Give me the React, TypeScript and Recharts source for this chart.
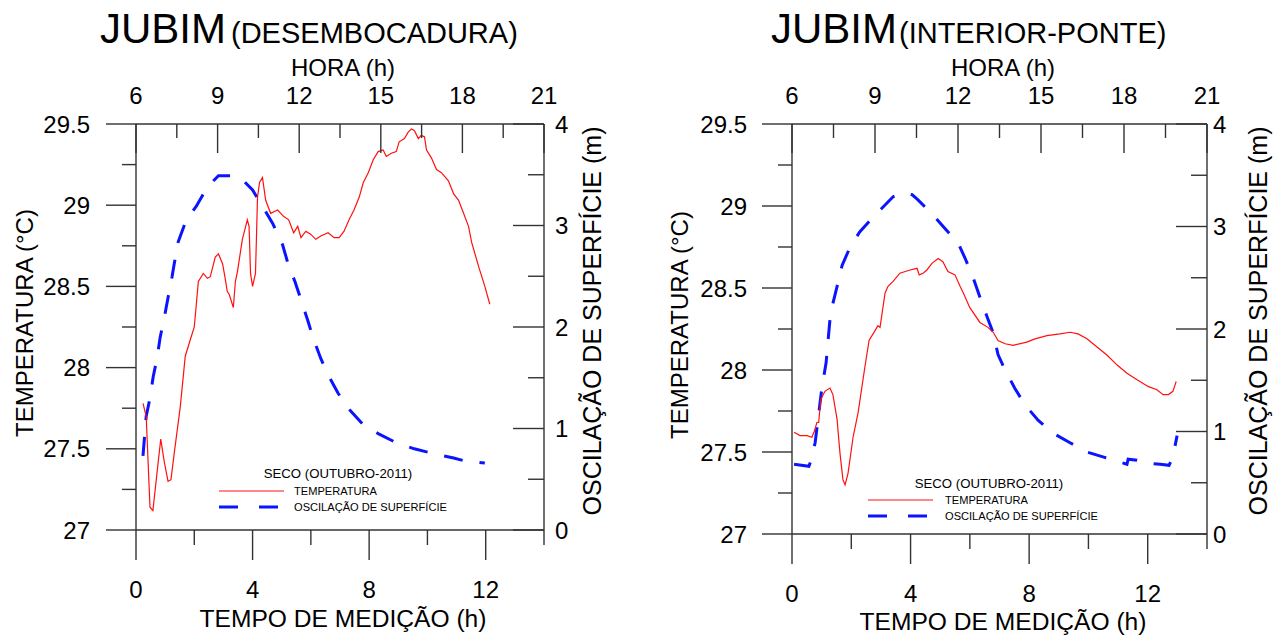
import React from 'react';
import { ComposedChart, Line, XAxis, YAxis } from 'recharts';

const FONT = '"Liberation Sans", Arial, Helvetica, sans-serif';
const AXIS = '#333333';
const RED = '#ff1010';
const BLUE = '#0a14ff';

// ---------- DATA: JUBIM (DESEMBOCADURA) ----------
const desTempTime = [0.24, 0.35, 0.48, 0.58, 0.72, 0.85, 0.97, 1.1, 1.2, 1.31, 1.52, 1.69, 1.86, 2.0, 2.14, 2.31, 2.45, 2.55, 2.72, 2.83, 2.97, 3.05, 3.13, 3.2, 3.34, 3.41, 3.48, 3.65, 3.82, 3.88, 3.93, 4.0, 4.1, 4.17, 4.24, 4.34, 4.45, 4.62, 4.86, 5.07, 5.24, 5.41, 5.55, 5.66, 5.83, 6.0, 6.17, 6.34, 6.59, 6.8, 6.97, 7.14, 7.31, 7.48, 7.66, 7.8, 7.97, 8.14, 8.31, 8.48, 8.59, 8.76, 8.93, 9.03, 9.21, 9.34, 9.45, 9.55, 9.69, 9.79, 9.9, 9.97, 10.14, 10.31, 10.48, 10.72, 10.9, 11.07, 11.24, 11.41, 11.52, 11.76, 11.97, 12.14];
const desTemp = [27.78, 27.7, 27.14, 27.12, 27.35, 27.56, 27.42, 27.3, 27.31, 27.47, 27.76, 28.07, 28.17, 28.25, 28.53, 28.58, 28.55, 28.56, 28.68, 28.7, 28.64, 28.56, 28.47, 28.45, 28.37, 28.53, 28.59, 28.79, 28.91, 28.87, 28.58, 28.5, 28.58, 29.05, 29.14, 29.17, 29.03, 28.95, 28.97, 28.93, 28.91, 28.83, 28.87, 28.8, 28.84, 28.82, 28.79, 28.81, 28.83, 28.8, 28.8, 28.84, 28.91, 28.97, 29.05, 29.14, 29.2, 29.28, 29.33, 29.34, 29.3, 29.32, 29.33, 29.39, 29.41, 29.45, 29.47, 29.46, 29.41, 29.43, 29.42, 29.34, 29.29, 29.22, 29.2, 29.15, 29.07, 29.03, 28.95, 28.87, 28.77, 28.62, 28.5, 28.39];
const desOscTime = [0.24, 0.35, 0.48, 0.59, 0.72, 0.83, 0.97, 1.1, 1.24, 1.31, 1.45, 1.72, 2.07, 2.45, 2.83, 3.24, 3.59, 4.0, 4.38, 4.69, 5.03, 5.21, 5.45, 5.66, 5.9, 6.07, 6.34, 6.59, 6.93, 7.28, 7.79, 8.31, 8.93, 9.55, 10.24, 10.9, 11.28, 11.97];
const desOsc = [0.73, 1.12, 1.3, 1.51, 1.69, 1.9, 2.09, 2.29, 2.5, 2.62, 2.84, 3.05, 3.19, 3.38, 3.49, 3.49, 3.47, 3.35, 3.17, 3.02, 2.81, 2.63, 2.45, 2.27, 2.06, 1.9, 1.69, 1.53, 1.35, 1.2, 1.04, 0.95, 0.86, 0.8, 0.75, 0.71, 0.68, 0.66];

// ---------- DATA: JUBIM (INTERIOR-PONTE) ----------
const intTempTime = [0.07, 0.27, 0.51, 0.67, 0.74, 0.84, 0.9, 0.97, 1.11, 1.28, 1.38, 1.52, 1.62, 1.72, 1.79, 1.89, 2.06, 2.23, 2.46, 2.6, 2.8, 2.9, 2.97, 3.14, 3.24, 3.41, 3.64, 3.98, 4.22, 4.29, 4.42, 4.55, 4.72, 4.93, 5.09, 5.26, 5.5, 5.67, 5.78, 6.0, 6.34, 6.61, 6.79, 6.95, 7.19, 7.46, 7.92, 8.2, 8.6, 9.04, 9.38, 9.65, 9.95, 10.29, 10.63, 10.97, 11.3, 11.64, 12.01, 12.31, 12.52, 12.7, 12.85, 12.96];
const intTemp = [27.62, 27.6, 27.6, 27.59, 27.62, 27.68, 27.68, 27.82, 27.87, 27.89, 27.85, 27.7, 27.49, 27.33, 27.3, 27.37, 27.59, 27.74, 28.02, 28.18, 28.24, 28.27, 28.26, 28.47, 28.51, 28.54, 28.59, 28.61, 28.62, 28.58, 28.59, 28.61, 28.65, 28.68, 28.66, 28.6, 28.58, 28.51, 28.47, 28.38, 28.29, 28.26, 28.23, 28.18, 28.16, 28.15, 28.17, 28.19, 28.21, 28.22, 28.23, 28.22, 28.19, 28.14, 28.09, 28.03, 27.98, 27.94, 27.9, 27.88, 27.85, 27.85, 27.87, 27.93];
const intOscTime = [0.07, 0.57, 0.62, 0.78, 1.01, 1.15, 1.28, 1.38, 1.55, 1.69, 1.96, 2.29, 2.8, 3.14, 3.41, 3.81, 4.05, 4.25, 4.76, 5.16, 5.6, 5.84, 6.11, 6.34, 6.58, 6.79, 6.95, 7.19, 7.52, 7.86, 8.3, 8.77, 9.38, 9.95, 10.63, 11.3, 11.34, 11.64, 11.98, 12.42, 12.72, 12.85, 12.99];
const intOsc = [0.68, 0.66, 0.7, 0.89, 1.43, 1.67, 2.09, 2.25, 2.45, 2.62, 2.8, 2.95, 3.11, 3.21, 3.29, 3.33, 3.31, 3.26, 3.11, 2.98, 2.84, 2.69, 2.5, 2.31, 2.12, 1.96, 1.75, 1.6, 1.42, 1.26, 1.11, 0.99, 0.89, 0.8, 0.74, 0.68, 0.73, 0.72, 0.69, 0.68, 0.67, 0.75, 0.96];

// ---------- TICKS ----------
const timeTicks = [0, 2, 4, 6, 8, 10, 12, 14];
const horaTicks = [6, 7.5, 9, 10.5, 12, 13.5, 15, 16.5, 18, 19.5, 21];
const tempTicks = [27, 27.25, 27.5, 27.75, 28, 28.25, 28.5, 28.75, 29, 29.25, 29.5];
const oscTicks = [0, 0.5, 1, 1.5, 2, 2.5, 3, 3.5, 4];

const zip = (ts: number[], vs: number[]) => ts.map((t, i) => ({ t, v: vs[i] }));
const horaRows = horaTicks.map((h) => ({ h }));

const isMult = (v: number, step: number) => Math.abs(v / step - Math.round(v / step)) < 1e-6;

const LeftTick = (p: any) => {
  const { x, y, payload, off } = p;
  const v = payload.value;
  const major = isMult(v, 0.5);
  const len = major ? 30 : 14;
  return (
    <g>
      <line x1={x - len} x2={x} y1={y} y2={y} stroke={AXIS} strokeWidth={1.4} />
      {major && (
        <text x={x - off} y={y + 8.5} textAnchor="end" fontSize={24} fontFamily={FONT} fill="#000">
          {String(v)}
        </text>
      )}
    </g>
  );
};

const RightTick = (p: any) => {
  const { x, y, payload, off } = p;
  const v = payload.value;
  const major = isMult(v, 1);
  const len = major ? 31 : 16;
  return (
    <g>
      <line x1={x - len} x2={x} y1={y} y2={y} stroke={AXIS} strokeWidth={1.4} />
      {major && (
        <text x={x + off} y={y + 8.5} textAnchor="start" fontSize={24} fontFamily={FONT} fill="#000">
          {String(v)}
        </text>
      )}
    </g>
  );
};

const BottomTick = (p: any) => {
  const { x, y, payload } = p;
  const v = payload.value;
  const major = isMult(v, 4);
  const len = major ? 30 : 15;
  return (
    <g>
      <line x1={x} x2={x} y1={y} y2={y + len} stroke={AXIS} strokeWidth={1.4} />
      {major && v < 14 && (
        <text x={x} y={y + 68} textAnchor="middle" fontSize={24} fontFamily={FONT} fill="#000">
          {String(v)}
        </text>
      )}
    </g>
  );
};

const TopTick = (p: any) => {
  const { x, y, payload } = p;
  const v = payload.value;
  const major = isMult(v, 3);
  const len = major ? 29 : 14;
  return (
    <g>
      <line x1={x} x2={x} y1={y} y2={y + len} stroke={AXIS} strokeWidth={1.4} />
      {major && (
        <text x={x} y={y - 20.5} textAnchor="middle" fontSize={24} fontFamily={FONT} fill="#000">
          {String(v)}
        </text>
      )}
    </g>
  );
};

const AxisTitle = (p: any) => {
  const { tx, ty, rot, text, size } = p;
  return (
    <text
      x={tx}
      y={ty}
      transform={rot ? `rotate(-90 ${tx} ${ty})` : undefined}
      textAnchor="middle"
      fontSize={size}
      fontFamily={FONT}
      fill="#000"
    >
      {text}
    </text>
  );
};

type PanelProps = {
  width: number;
  leftW: number;
  rightW: number;
  bottomH: number;
  leftOff: number;
  rightOff: number;
  temp: { t: number; v: number }[];
  osc: { t: number; v: number }[];
  titles: { bottomX: number; leftX: number; leftY: number; rightX: number; rightY: number; bottomY: number };
};

const Panel = ({ width, leftW, rightW, bottomH, leftOff, rightOff, temp, osc, titles }: PanelProps) => (
  <ComposedChart width={width} height={636} margin={{ top: 0, right: 0, bottom: 0, left: 0 }}>
    <XAxis
      xAxisId="time"
      dataKey="t"
      type="number"
      domain={[0, 14]}
      ticks={timeTicks}
      allowDataOverflow
      orientation="bottom"
      height={bottomH}
      tickSize={0}
      tickMargin={0}
      tickLine={false}
      axisLine={{ stroke: AXIS, strokeWidth: 1.4 }}
      tick={(props: any) => <BottomTick {...props} />}
      interval={0}
      label={<AxisTitle tx={titles.bottomX} ty={titles.bottomY} text="TEMPO DE MEDIÇÃO (h)" size={24.6} />}
    />
    <XAxis
      xAxisId="hora"
      dataKey="h"
      type="number"
      domain={[6, 21]}
      ticks={horaTicks}
      allowDataOverflow
      orientation="top"
      height={124}
      tickSize={0}
      tickMargin={0}
      tickLine={false}
      axisLine={{ stroke: AXIS, strokeWidth: 1.4 }}
      tick={(props: any) => <TopTick {...props} />}
      interval={0}
      label={<AxisTitle tx={titles.bottomX} ty={75.5} text="HORA (h)" size={24} />}
    />
    <YAxis
      yAxisId="temp"
      type="number"
      domain={[27, 29.5]}
      ticks={tempTicks}
      allowDataOverflow
      orientation="left"
      width={leftW}
      tickSize={0}
      tickMargin={0}
      tickLine={false}
      axisLine={{ stroke: AXIS, strokeWidth: 1.4 }}
      tick={(props: any) => <LeftTick {...props} off={leftOff} />}
      interval={0}
      label={<AxisTitle tx={titles.leftX} ty={titles.leftY} rot text="TEMPERATURA (°C)" size={24} />}
    />
    <YAxis
      yAxisId="osc"
      type="number"
      domain={[0, 4]}
      ticks={oscTicks}
      allowDataOverflow
      orientation="right"
      width={rightW}
      tickSize={0}
      tickMargin={0}
      tickLine={false}
      axisLine={{ stroke: AXIS, strokeWidth: 1.4 }}
      tick={(props: any) => <RightTick {...props} off={rightOff} />}
      interval={0}
      label={<AxisTitle tx={titles.rightX} ty={titles.rightY} rot text="OSCILAÇÃO DE SUPERFÍCIE (m)" size={25} />}
    />
    {/* hour axis carrier: an empty series so the HORA axis is registered */}
    <Line
      data={horaRows}
      xAxisId="hora"
      yAxisId="temp"
      dataKey="none"
      stroke="none"
      dot={false}
      legendType="none"
      isAnimationActive={false}
    />
    <Line
      data={osc}
      xAxisId="time"
      yAxisId="osc"
      dataKey="v"
      type="linear"
      stroke={BLUE}
      strokeWidth={3}
      strokeDasharray="19 17"
      dot={false}
      isAnimationActive={false}
    />
    <Line
      data={temp}
      xAxisId="time"
      yAxisId="temp"
      dataKey="v"
      type="linear"
      stroke={RED}
      strokeWidth={1.2}
      dot={false}
      isAnimationActive={false}
    />
  </ComposedChart>
);

const Legend = ({ cx, ty, lx, tx, y1, y2 }: { cx: number; ty: number; lx: number; tx: number; y1: number; y2: number }) => (
  <g fontFamily={FONT} fill="#000">
    <text x={cx} y={ty} textAnchor="middle" fontSize={13.2}>SECO (OUTUBRO-2011)</text>
    <line x1={lx} x2={lx + 65} y1={y1} y2={y1} stroke={RED} strokeWidth={1.2} />
    <text x={tx} y={y1 + 4} fontSize={11.1}>TEMPERATURA</text>
    <line x1={lx} x2={lx + 60} y1={y2} y2={y2} stroke={BLUE} strokeWidth={3} strokeDasharray="19 21" />
    <text x={tx} y={y2 + 4} fontSize={11.1}>OSCILAÇÃO DE SUPERFÍCIE</text>
  </g>
);

export default function App() {
  return (
    <div style={{ position: 'absolute', left: 0, top: 0, width: 1285, height: 636, background: '#fff' }}>
      <div style={{ position: 'absolute', left: 0, top: 0 }}>
        <Panel
          width={640}
          leftW={136}
          rightW={96}
          bottomH={106}
          leftOff={46}
          rightOff={11}
          temp={zip(desTempTime, desTemp)}
          osc={zip(desOscTime, desOsc)}
          titles={{ bottomX: 343, bottomY: 627, leftX: 32.5, leftY: 323, rightX: 601, rightY: 321 }}
        />
      </div>
      <div style={{ position: 'absolute', left: 640, top: 0 }}>
        <Panel
          width={645}
          leftW={152}
          rightW={78}
          bottomH={102}
          leftOff={45}
          rightOff={6}
          temp={zip(intTempTime, intTemp)}
          osc={zip(intOscTime, intOsc)}
          titles={{ bottomX: 363, bottomY: 630, leftX: 47.5, leftY: 325, rightX: 627, rightY: 321 }}
        />
      </div>
      <svg
        width={1285}
        height={636}
        style={{ position: 'absolute', left: 0, top: 0, pointerEvents: 'none' }}
      >
        <g fontFamily={FONT} fill="#000">
          <text x={100} y={43} fontSize={42}>JUBIM</text>
          <text x={231} y={43} fontSize={29}>(DESEMBOCADURA)</text>
          <text x={771} y={43} fontSize={42}>JUBIM</text>
          <text x={899} y={43} fontSize={29}>(INTERIOR-PONTE)</text>
        </g>
        <Legend cx={338} ty={478} lx={219} tx={294} y1={491} y2={507} />
        <Legend cx={989} ty={488} lx={868} tx={945} y1={500} y2={516} />
      </svg>
    </div>
  );
}
